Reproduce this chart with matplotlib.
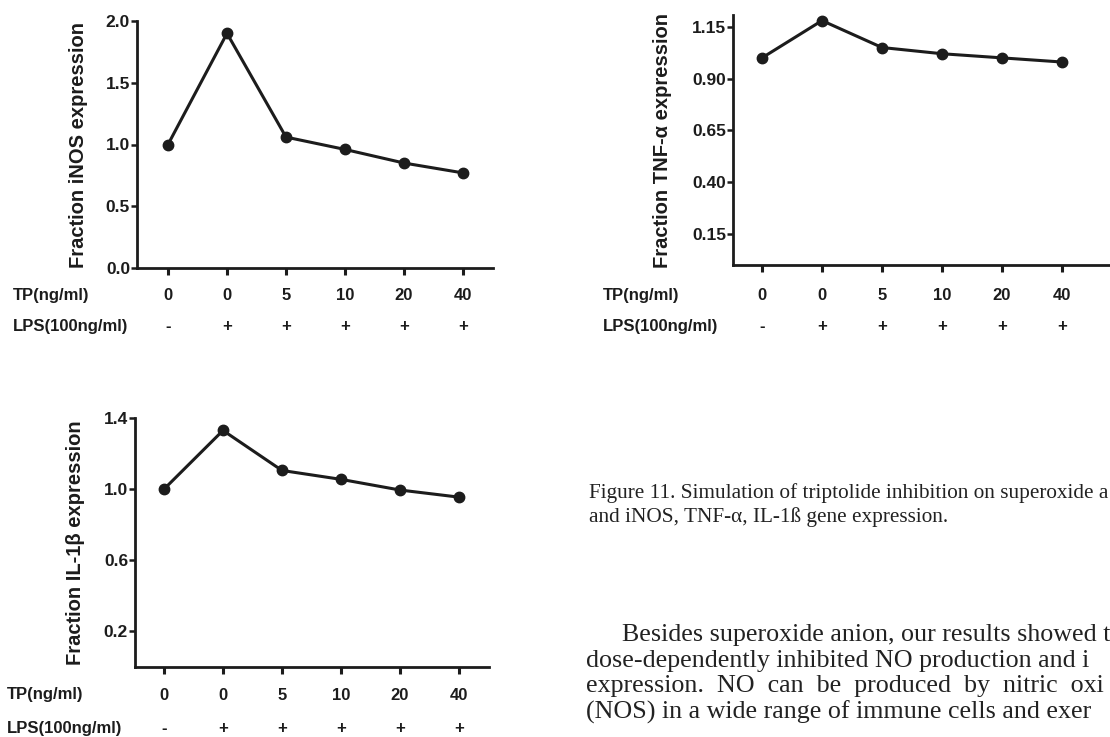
import matplotlib
matplotlib.use('Agg')
import matplotlib.pyplot as plt

# data
tp_labels = ['0', '0', '5', '10', '20', '40']
lps_labels = ['-', '+', '+', '+', '+', '+']
inos = [1.0, 1.9, 1.06, 0.96, 0.85, 0.77]
tnf = [1.0, 1.18, 1.05, 1.02, 1.0, 0.98]
il1b = [1.0, 1.33, 1.105, 1.055, 0.995, 0.955]

caption = ['Figure 11. Simulation of triptolide inhibition on superoxide a',
           'and iNOS, TNF-\u03b1, IL-1\u00df gene expression.']
body = ['Besides superoxide anion, our results showed t',
        'dose-dependently inhibited NO production and i',
        'expression.  NO  can  be  produced  by  nitric  oxi',
        '(NOS) in a wide range of immune cells and exer']

W, H = 1110, 737
plt.rcParams['font.family'] = ['Liberation Sans', 'DejaVu Sans']
plt.rcParams['font.weight'] = 'bold'
ink = '#1c1c1c'

fig = plt.figure(figsize=(W / 100, H / 100), dpi=100)


def px_axes(left, right, top, bottom):
    return fig.add_axes([left / W, 1 - bottom / H, (right - left) / W, (bottom - top) / H])


def panel(ax, values, ylabel, ylim, yticks, fmt, x0, step, label_x, row_off, head_x, head_y):
    xs = range(len(values))
    ax.plot(xs, values, color=ink, lw=2.2, marker='o', ms=7.5)
    left, right = ax.get_position().x0 * W, ax.get_position().x1 * W
    ax.set_xlim((left - x0) / step, (right - x0) / step)
    ax.set_ylim(*ylim)
    ax.set_yticks(yticks)
    ax.set_yticklabels([fmt.format(v) for v in yticks])
    ax.set_xticks(list(xs))
    ax.set_xticklabels([])
    for s in ['top', 'right']:
        ax.spines[s].set_visible(False)
    for s in ['left', 'bottom']:
        ax.spines[s].set_linewidth(2.0)
        ax.spines[s].set_color(ink)
    ax.tick_params(axis='y', length=4, width=1.8, pad=1, labelsize=12.5, colors=ink)
    ax.tick_params(axis='x', length=5, width=2.2, colors=ink)
    ax.set_ylabel(ylabel, fontsize=14.5, fontweight='bold', color=ink)
    ax.yaxis.set_label_coords((label_x - left) / (right - left), 0.5)
    for i in xs:
        ax.annotate(tp_labels[i], xy=(i, 0), xycoords=('data', 'axes fraction'),
                    xytext=(0, -row_off[0]), textcoords='offset pixels',
                    ha='center', va='center', fontsize=12, color=ink)
        ax.annotate(lps_labels[i], xy=(i, 0), xycoords=('data', 'axes fraction'),
                    xytext=(0, -row_off[1]), textcoords='offset pixels',
                    ha='center', va='center', fontsize=12, color=ink)
    fig.text(head_x / W, 1 - head_y[0] / H, 'TP(ng/ml)', ha='left', va='center', fontsize=12, color=ink)
    fig.text(head_x / W, 1 - head_y[1] / H, 'LPS(100ng/ml)', ha='left', va='center', fontsize=12, color=ink)


ax1 = px_axes(137, 493, 21, 268)
panel(ax1, inos, 'Fraction iNOS expression', (0, 2.0), [0.0, 0.5, 1.0, 1.5, 2.0], '{:.1f}',
      168, 59, 88, (27, 58), 13, (295, 326))

ax2 = px_axes(733, 1140, 15, 265)
panel(ax2, tnf, 'Fraction TNF-\u03b1 expression', (0, 1.207), [0.15, 0.40, 0.65, 0.90, 1.15], '{:.2f}',
      762, 60, 672, (30, 61), 603, (295, 326))

ax3 = px_axes(135, 489, 418, 667)
panel(ax3, il1b, 'Fraction IL-1\u03b2 expression', (0, 1.4), [0.2, 0.6, 1.0, 1.4], '{:.1f}',
      164, 59, 85, (28, 62), 7, (695, 729))

# caption and running text
serif = ['Liberation Serif', 'DejaVu Serif']
for i, line in enumerate(caption):
    fig.text(589 / W, 1 - (493 + 24 * i) / H, line, ha='left', va='center',
             family=serif, fontweight='normal', fontsize=15.3, color='#222222')
for i, line in enumerate(body):
    x = 622 if i == 0 else 586
    fig.text(x / W, 1 - (635 + 25.7 * i) / H, line, ha='left', va='center',
             family=serif, fontweight='normal', fontsize=18.7, color='#222222')

fig.savefig('out.png', dpi=100)
